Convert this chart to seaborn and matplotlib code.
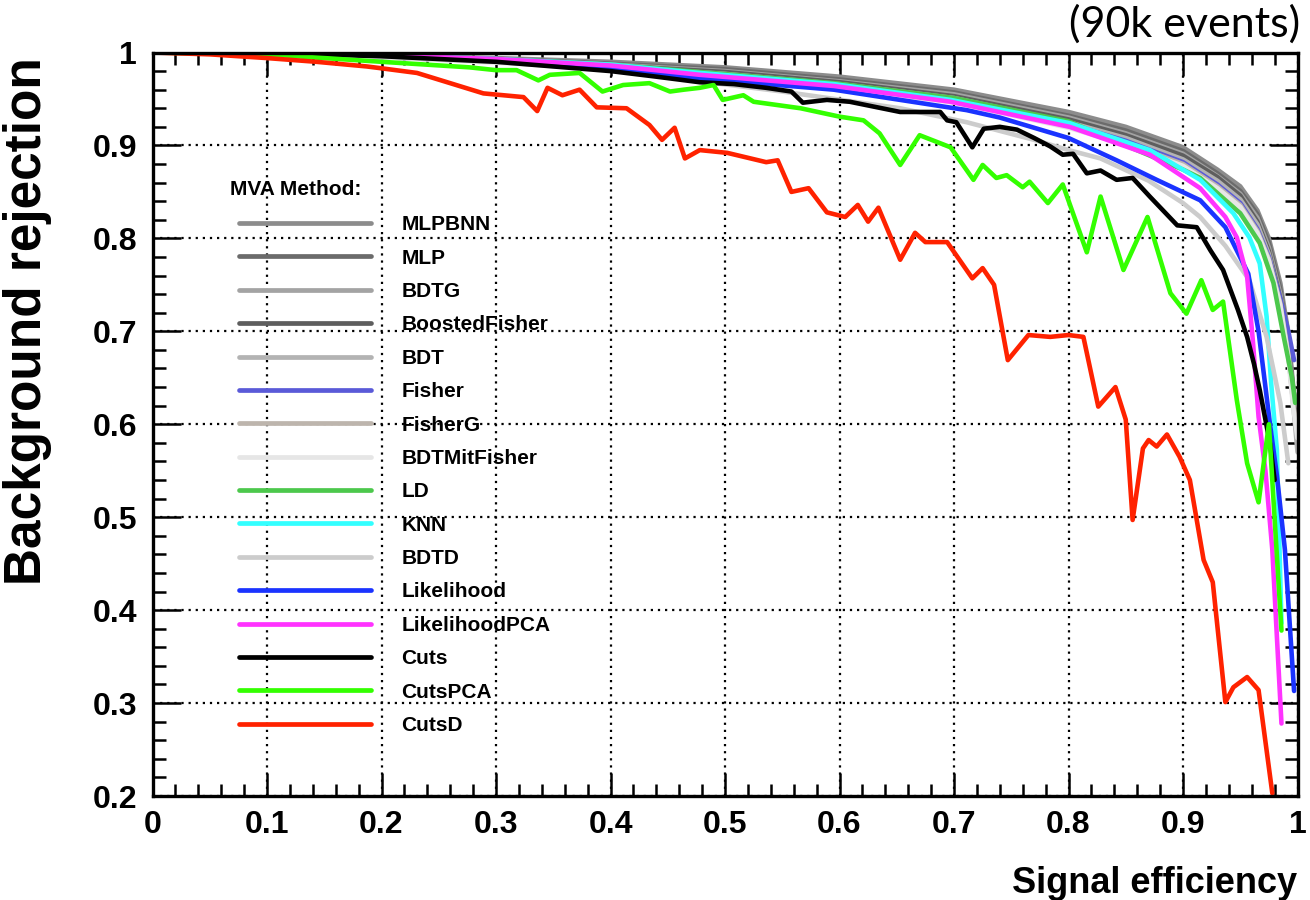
import numpy as np
import pandas as pd
import matplotlib
matplotlib.use("Agg")
import matplotlib.pyplot as plt
from matplotlib.ticker import MultipleLocator, FuncFormatter
import seaborn as sns

# ---------------- data ----------------
methods = ["MLPBNN", "MLP", "BDTG", "BoostedFisher", "BDT", "Fisher", "FisherG",
           "BDTMitFisher", "LD", "KNN", "BDTD", "Likelihood", "LikelihoodPCA",
           "Cuts", "CutsPCA", "CutsD"]

colors = ["#8c8c8c", "#6b6b6b", "#a3a3a3", "#5e5e5e", "#b3b3b3", "#5a5ad8", "#bdb5ad",
          "#e6e6e6", "#4cc84c", "#33ffff", "#cccccc", "#1a33ff", "#ff33ff",
          "#000000", "#33ff00", "#ff2200"]

x_gray = [0, .1, .2, .3, .4, .5, .6, .7, .8, .85, .9, .93, .95, .965, .975, .985, .992, .996, 1.0]
y_mlpbnn = [1, .9995, .997, .994, .990, .984, .974, .960, .936, .920, .898, .874, .856, .830, .800, .752, .698, .644, .600]
y_mlp = [1, .9995, .9965, .993, .988, .982, .971, .957, .932, .916, .894, .870, .851, .826, .795, .745, .690, .640, .610]
y_bdtg = [1, .9993, .996, .992, .987, .980, .969, .955, .930, .913, .891, .867, .848, .822, .790, .740, .685, .635, .620]
y_boostedfisher = [1, .9993, .996, .992, .986, .979, .968, .953, .928, .911, .889, .866, .846, .818, .786, .735, .680, .630, .580]
y_bdt = [1, .999, .995, .991, .985, .977, .966, .951, .925, .908, .885, .862, .842, .815, .783, .732, .676, .625, .570]
y_fisherg = [1, .999, .995, .990, .984, .975, .963, .948, .921, .903, .880, .856, .836, .808, .778, .730, .675, .625, .590]
y_bdtmitfisher = [1, .999, .995, .989, .983, .974, .962, .946, .919, .901, .878, .854, .834, .806, .776, .728, .672, .620, .585]

x_fisher = [0, .1, .2, .3, .4, .5, .6, .7, .8, .85, .9, .93, .95, .965, .975, .985, .992, .997]
y_fisher = [1, .999, .995, .990, .984, .976, .964, .949, .923, .905, .882, .858, .838, .810, .780, .735, .700, .669]

x_ld = [0, .1, .2, .3, .4, .478, .595, .7, .8, .9, .915, .95, .967, .979, .988, .995, .998]
y_ld = [1, .9995, .997, .993, .987, .979, .967, .951, .926, .874, .865, .827, .795, .752, .694, .651, .623]

x_knn = [0, .1, .2, .3, .4, .478, .595, .697, .801, .871, .915, .944, .958, .967, .973, .977, .982, .986]
y_knn = [1, .9995, .997, .993, .987, .978, .966, .949, .924, .895, .863, .827, .801, .773, .716, .644, .572, .386]

x_bdtd = [0, .1, .2, .3, .4, .478, .55, .653, .711, .77, .8, .828, .87, .9, .915, .937, .958, .973, .985, .992]
y_bdtd = [1, .9995, .996, .990, .981, .969, .958, .940, .925, .906, .895, .886, .862, .838, .823, .792, .755, .694, .623, .558]

x_likelihood = [0, .1, .2, .3, .4, .478, .595, .711, .74, .8, .842, .877, .915, .937, .957, .966, .976, .982, .989, .997]
y_likelihood = [1, .9995, .997, .992, .984, .972, .960, .938, .930, .908, .884, .863, .841, .812, .762, .700, .600, .545, .465, .313]

x_likelihoodpca = [0, .1, .2, .3, .4, .478, .595, .697, .801, .871, .915, .937, .947, .956, .961, .966, .972, .978, .986]
y_likelihoodpca = [1, .9995, .997, .993, .986, .976, .964, .947, .920, .890, .854, .823, .801, .759, .690, .608, .550, .465, .278]

x_cuts = [0, .1, .2, .3, .4, .44, .478, .508, .536, .558, .568, .589, .609, .653, .688, .694, .702,
          .716, .726, .74, .755, .77, .784, .795, .804, .816, .828, .842, .856, .871, .895, .912,
          .924, .935, .948, .956, .962, .967, .976, .98]
y_cuts = [1, .9995, .996, .990, .980, .974, .968, .966, .962, .958, .946, .949, .947, .936, .936, .927, .925,
          .898, .918, .920, .917, .908, .899, .890, .891, .870, .873, .863, .865, .845, .814, .812,
          .787, .766, .723, .694, .665, .637, .579, .540]

x_cutspca = [0, .1, .2, .245, .277, .3, .318, .337, .347, .373, .393, .411, .434, .452, .464, .478,
             .490, .498, .516, .525, .566, .600, .621, .635, .653, .670, .697, .717, .725, .737,
             .746, .760, .766, .782, .795, .816, .828, .848, .869, .889, .903, .916, .926, .935,
             .947, .956, .966, .975, .986]
y_cutspca = [1, .998, .990, .9865, .984, .981, .981, .970, .976, .978, .958, .965, .967, .958, .960, .962,
             .965, .949, .954, .947, .940, .931, .927, .913, .879, .911, .898, .863, .879, .865,
             .868, .855, .861, .838, .858, .785, .845, .766, .823, .741, .719, .755, .723, .732,
             .626, .558, .516, .600, .378]

x_cutsd = [0, .05, .1, .143, .187, .2, .231, .26, .289, .324, .336, .345, .358, .373, .388, .414,
           .434, .445, .456, .465, .478, .502, .536, .546, .558, .573, .589, .605, .616, .625,
           .634, .653, .666, .675, .694, .716, .725, .735, .747, .765, .784, .8, .813, .826,
           .841, .850, .856, .865, .870, .877, .886, .897, .906, .918, .926, .937, .944, .956,
           .966, .978]
y_cutsd = [1, .998, .994, .990, .985, .983, .978, .967, .956, .952, .937, .962, .954, .960, .941, .940,
           .922, .906, .919, .886, .895, .892, .882, .884, .850, .854, .828, .823, .836, .818,
           .833, .777, .806, .796, .796, .757, .768, .750, .669, .696, .694, .696, .694, .619,
           .640, .605, .497, .574, .583, .576, .589, .565, .540, .454, .430, .301, .317, .328,
           .314, .203]

x_ticks = [0, .1, .2, .3, .4, .5, .6, .7, .8, .9, 1]
y_ticks = [.2, .3, .4, .5, .6, .7, .8, .9, 1]

curves = {
    "MLPBNN": (x_gray, y_mlpbnn), "MLP": (x_gray, y_mlp), "BDTG": (x_gray, y_bdtg),
    "BoostedFisher": (x_gray, y_boostedfisher), "BDT": (x_gray, y_bdt),
    "Fisher": (x_fisher, y_fisher), "FisherG": (x_gray, y_fisherg),
    "BDTMitFisher": (x_gray, y_bdtmitfisher), "LD": (x_ld, y_ld), "KNN": (x_knn, y_knn),
    "BDTD": (x_bdtd, y_bdtd), "Likelihood": (x_likelihood, y_likelihood),
    "LikelihoodPCA": (x_likelihoodpca, y_likelihoodpca), "Cuts": (x_cuts, y_cuts),
    "CutsPCA": (x_cutspca, y_cutspca), "CutsD": (x_cutsd, y_cutsd),
}

frames = []
for m in methods:
    xs, ys = curves[m]
    frames.append(pd.DataFrame({"eff": xs, "rej": ys, "method": m}))
df = pd.concat(frames, ignore_index=True)

# ---------------- style ----------------
sns.set_style("ticks")
plt.rcParams["font.family"] = ["Liberation Sans", "DejaVu Sans"]
plt.rcParams["font.weight"] = "bold"
for k in ["text.color", "axes.labelcolor", "xtick.color", "ytick.color", "axes.edgecolor"]:
    plt.rcParams[k] = "black"

fig = plt.figure(figsize=(13.1, 9.0), dpi=100)
ax = fig.add_axes([152.5 / 1310, 1 - 796 / 900, 1145 / 1310, 743.5 / 900])

palette = dict(zip(methods, colors))
sns.lineplot(data=df, x="eff", y="rej", hue="method", hue_order=methods, palette=palette,
             estimator=None, sort=False, linewidth=3.3, ax=ax, legend=True)
for ln in ax.get_lines():
    ln.set_solid_joinstyle("round")
    ln.set_solid_capstyle("round")

ax.set_xlim(0, 1)
ax.set_ylim(0.2, 1)
ax.set_xticks(x_ticks)
ax.set_yticks(y_ticks)
fmt = FuncFormatter(lambda v, p: "%g" % round(v, 2))
ax.xaxis.set_major_formatter(fmt)
ax.yaxis.set_major_formatter(fmt)
ax.xaxis.set_minor_locator(MultipleLocator(0.02))
ax.yaxis.set_minor_locator(MultipleLocator(0.02))

ax.grid(True, which="major", color="black", linestyle=(0, (1, 2.2)), linewidth=1.6)
ax.set_axisbelow(True)

for s in ax.spines.values():
    s.set_linewidth(2.4)
    s.set_color("black")
    s.set_visible(True)
    s.set_zorder(5)

ax.tick_params(axis="both", which="both", direction="in", top=True, right=True, colors="black")
ax.tick_params(axis="y", which="major", length=20, width=1.8, pad=11, labelsize=23)
ax.tick_params(axis="y", which="minor", length=9.5, width=1.8)
ax.tick_params(axis="x", which="major", length=16.5, width=1.8, pad=10, labelsize=23)
ax.tick_params(axis="x", which="minor", length=8.5, width=1.8)
for lab in ax.get_xticklabels() + ax.get_yticklabels():
    lab.set_fontweight("bold")
    lab.set_color("black")

ax.set_xlabel("Signal efficiency", fontsize=26, fontweight="bold", loc="right", color="black")
ax.xaxis.set_label_coords(1.0, -0.094)
ax.set_ylabel("Background rejection", fontsize=37, fontweight="bold", loc="top", color="black")
ax.yaxis.set_label_coords(-0.088, 0.994)

# legend
handles, labels = ax.get_legend_handles_labels()
leg = ax.legend(handles, labels, loc="upper left", bbox_to_anchor=(0.0755, 0.781),
                frameon=False, fontsize=15, handlelength=6.35, handletextpad=1.44,
                labelspacing=0.69, borderpad=0, borderaxespad=0)
for h in leg.get_lines():
    h.set_linewidth(3.4)
for t in leg.get_texts():
    t.set_fontweight("bold")
    t.set_color("black")
ax.text(0.0677, 0.8164, "MVA Method:", transform=ax.transAxes, fontsize=15,
        fontweight="bold", ha="left", va="center", color="black")

fig.text(1300 / 1310, 1 - 37 / 900, "(90k events)", fontsize=31, family=["Lato", "DejaVu Sans"],
         fontweight="normal", ha="right", va="baseline", color="black")

fig.savefig("out.png", dpi=100)
